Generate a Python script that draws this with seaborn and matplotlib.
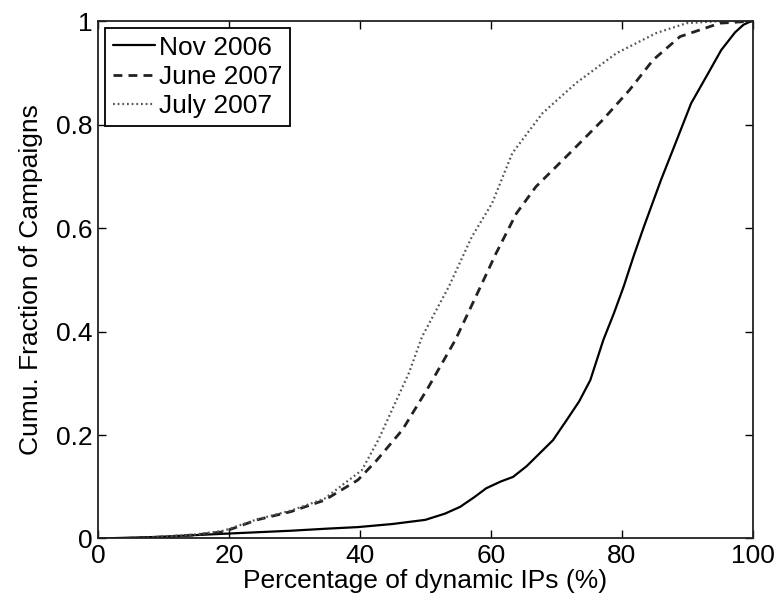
import matplotlib
matplotlib.use("Agg")
import matplotlib.pyplot as plt
import seaborn as sns
import pandas as pd

# Data (CDF curves)
nov_x = [0.3, 9, 19, 29.5, 35, 39.7, 45, 50, 53, 55.3, 57.5, 59.3, 61.5, 63.4, 65.5, 67.5,
         69.5, 71.6, 73.5, 75.2, 77.2, 78.8, 80.3, 81.8, 83.4, 86.0, 88.0, 90.6, 93.2, 95.2, 97.3,
         98.6, 99.8]
nov_y = [0, 0.003, 0.009, 0.015, 0.019, 0.022, 0.028, 0.036, 0.048, 0.061, 0.08, 0.097, 0.11, 0.119,
         0.14, 0.165, 0.19, 0.229, 0.265, 0.306, 0.384, 0.435, 0.487, 0.545, 0.603, 0.693, 0.757,
         0.841, 0.899, 0.944, 0.978, 0.993, 1.0]

jun_x = [4, 10, 15, 19.2, 24.3, 29.5, 34.6, 39.7, 42.5, 46.5, 50.5, 54.6, 57.7, 60.8, 63.9, 66.9,
         72.0, 77.1, 81.2, 84.8, 88.9, 95.0, 100]
jun_y = [0, 0.003, 0.007, 0.013, 0.036, 0.052, 0.074, 0.113, 0.15, 0.21, 0.293, 0.384, 0.467, 0.551,
         0.628, 0.680, 0.744, 0.809, 0.867, 0.925, 0.970, 0.996, 1.0]

jul_x = [4, 10, 15, 19.2, 24.3, 29.5, 34.6, 40.3, 42.8, 45.4, 47.5, 49.5, 53.6, 57.1, 60.2, 63.3,
         67.9, 73.0, 79.2, 85.3, 89.9, 95, 100]
jul_y = [0, 0.003, 0.008, 0.015, 0.037, 0.054, 0.077, 0.132, 0.19, 0.262, 0.32, 0.39, 0.487, 0.583,
         0.648, 0.745, 0.822, 0.880, 0.938, 0.977, 0.996, 1.0, 1.0]

labels = ["Nov 2006", "June 2007", "July 2007"]
x_ticks = [0, 20, 40, 60, 80, 100]
y_ticks = [0, 0.2, 0.4, 0.6, 0.8, 1]
y_tick_labels = ["0", "0.2", "0.4", "0.6", "0.8", "1"]

sns.set_style("ticks")
plt.rcParams["font.family"] = ["Liberation Sans", "DejaVu Sans"]
plt.rcParams["text.color"] = "black"
plt.rcParams["axes.labelcolor"] = "black"

fig = plt.figure(figsize=(7.84, 6.03), dpi=100)
ax = fig.add_axes([0.125, 0.107, 0.835, 0.858])

series = [
    (nov_x, nov_y, dict(color="black", linewidth=1.6, linestyle="-")),
    (jun_x, jun_y, dict(color="#222222", linewidth=2.0, linestyle=(0, (3.2, 2.2)))),
    (jul_x, jul_y, dict(color="#555555", linewidth=1.6, linestyle=(0, (0.8, 1.3)))),
]
for (xs, ys, st), lab in zip(series, labels):
    df = pd.DataFrame({"x": xs, "y": ys})
    sns.lineplot(data=df, x="x", y="y", ax=ax, sort=False, label=lab, **st)

ax.set_xlim(0, 100)
ax.set_ylim(0, 1)
ax.set_xticks(x_ticks)
ax.set_xticklabels([str(t) for t in x_ticks])
ax.set_yticks(y_ticks)
ax.set_yticklabels(y_tick_labels)
ax.tick_params(direction="in", top=True, right=True, length=6, width=1.0,
               labelsize=19, colors="black", pad=4)
for sp in ax.spines.values():
    sp.set_visible(True)
    sp.set_linewidth(1.3)
    sp.set_color("#222222")

ax.set_xlabel("Percentage of dynamic IPs (%)", fontsize=19, labelpad=1, color="black")
ax.set_ylabel("Cumu. Fraction of Campaigns", fontsize=19, labelpad=9, color="black")

leg = ax.legend(loc="upper left", fontsize=19, frameon=True, fancybox=False,
                edgecolor="black", framealpha=1, borderaxespad=0.25,
                handlelength=1.6, handletextpad=0.15, labelspacing=0.2,
                borderpad=0.3)
leg.get_frame().set_linewidth(1.3)
for t in leg.get_texts():
    t.set_color("black")

fig.savefig("out.png", dpi=100)
